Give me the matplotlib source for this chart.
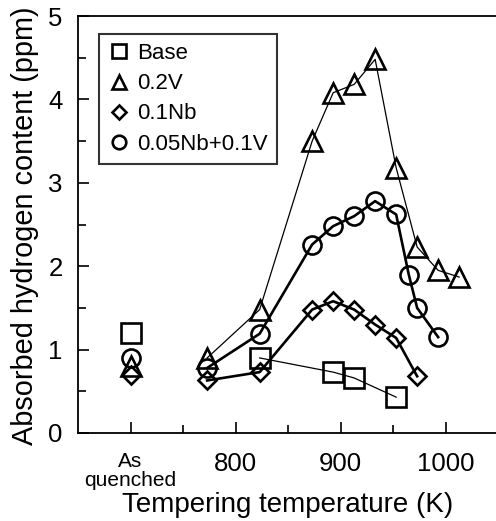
import matplotlib
matplotlib.use("Agg")
import matplotlib.pyplot as plt
from matplotlib.ticker import MultipleLocator, FixedLocator

plt.rcParams['font.family'] = ['Liberation Sans', 'DejaVu Sans']

# "As quenched" is plotted at 700 K position
base_x = [700, 823, 893, 913, 953]
base_y = [1.2, 0.9, 0.73, 0.66, 0.43]

v_x = [700, 773, 823, 873, 893, 913, 933, 953, 973, 993, 1013]
v_y = [0.8, 0.9, 1.48, 3.5, 4.08, 4.18, 4.48, 3.18, 2.23, 1.95, 1.87]

nb_x = [700, 773, 823, 873, 893, 913, 933, 953, 973]
nb_y = [0.7, 0.63, 0.73, 1.48, 1.58, 1.48, 1.3, 1.14, 0.68]

nbv_x = [700, 773, 823, 873, 893, 913, 933, 953, 965, 973, 993]
nbv_y = [0.9, 0.78, 1.19, 2.26, 2.48, 2.6, 2.78, 2.62, 1.9, 1.5, 1.15]

xtick_vals = [700, 800, 900, 1000]
xtick_labels = ['As\nquenched', '800', '900', '1000']

fig = plt.figure(figsize=(4.96, 5.21), dpi=100)
ax = fig.add_axes([78/496, 1-433/521, 420/496, 417/521])

mk = dict(mfc='none', mec='black', mew=1.9, color='black')
h1, = ax.plot(base_x[:1], base_y[:1], ls='none', marker='s', ms=14, label='Base', **mk)
ax.plot(base_x[1:], base_y[1:], ls='-', lw=0.9, marker='s', ms=14, **mk)
h2, = ax.plot(v_x[:1], v_y[:1], ls='none', marker='^', ms=14, label='0.2V', **mk)
ax.plot(v_x[1:], v_y[1:], ls='-', lw=0.9, marker='^', ms=14, **mk)
h3, = ax.plot(nb_x[:1], nb_y[:1], ls='none', marker='D', ms=9.5, label='0.1Nb', **mk)
ax.plot(nb_x[1:], nb_y[1:], ls='-', lw=1.9, marker='D', ms=9.5, **mk)
h4, = ax.plot(nbv_x[:1], nbv_y[:1], ls='none', marker='o', ms=13, label='0.05Nb+0.1V', **mk)
ax.plot(nbv_x[1:], nbv_y[1:], ls='-', lw=1.9, marker='o', ms=13, **mk)

ax.set_xlim(650, 1050)
ax.set_ylim(0, 5)
ax.xaxis.set_major_locator(FixedLocator(xtick_vals))
ax.set_xticklabels(xtick_labels)
ax.xaxis.set_minor_locator(FixedLocator([750, 850, 950]))
ax.yaxis.set_major_locator(MultipleLocator(1))
ax.yaxis.set_minor_locator(MultipleLocator(0.5))

ax.tick_params(axis='both', which='both', direction='in', width=1.2, colors='black')
ax.tick_params(axis='both', which='major', length=8, labelsize=18.5)
ax.tick_params(axis='both', which='minor', length=6)
ax.tick_params(axis='y', which='major', pad=11)
ax.tick_params(axis='x', which='major', pad=14)
lab0 = ax.get_xticklabels()[0]
lab0.set_fontsize(15)
lab0.set_linespacing(1.0)

for s in ['left', 'bottom', 'top']:
    ax.spines[s].set_linewidth(1.3)
ax.spines['right'].set_visible(False)

ax.set_xlabel('Tempering temperature (K)', fontsize=20, labelpad=1)
ax.set_ylabel('Absorbed hydrogen content (ppm)', fontsize=20.8)
ax.yaxis.set_label_coords(-0.093, 0.497)

leg = ax.legend(handles=[h1, h2, h3, h4], loc='upper left',
                bbox_to_anchor=(0.05, 0.957), fontsize=16, fancybox=False,
                frameon=True, edgecolor='black', handlelength=1.0,
                handletextpad=0.3, borderpad=0.42, labelspacing=0.41,
                borderaxespad=0, markerscale=0.75)
leg.get_frame().set_linewidth(1.5)

fig.savefig('out.png', dpi=100)
